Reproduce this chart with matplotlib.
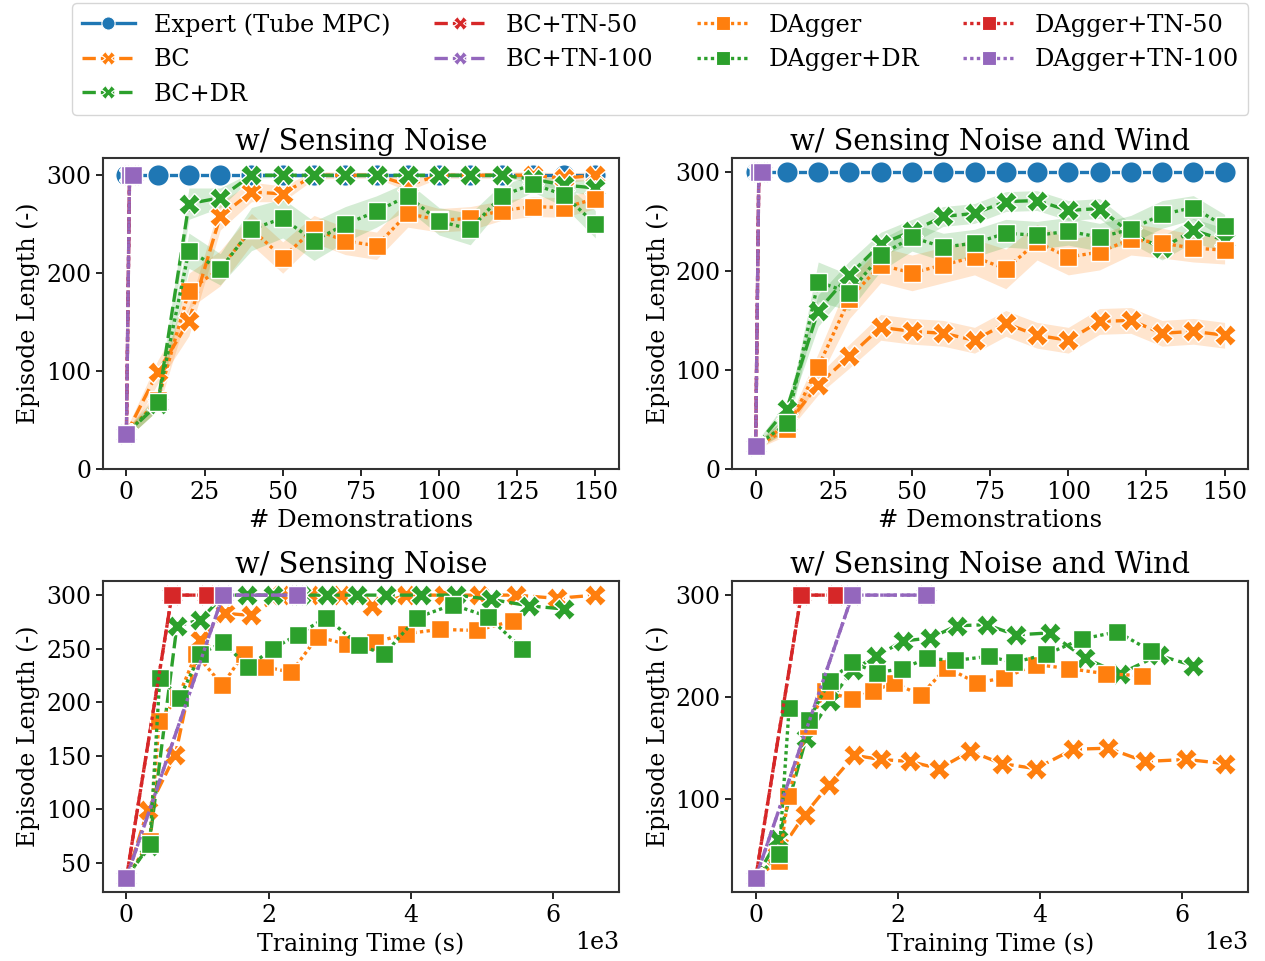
import numpy as np
import matplotlib.pyplot as plt
from matplotlib.lines import Line2D

plt.rcParams['font.family'] = ['DejaVu Serif']
plt.rcParams['font.size'] = 17

# x values
demos = [0, 10, 20, 30, 40, 50, 60, 70, 80, 90, 100, 110, 120, 130, 140, 150]
tn_demos = [0, 1, 2]

# training time (s) per method
t_bc = [0, 300, 690, 1030, 1390, 1760, 2170, 2580, 3020, 3460, 3940, 4470, 4960, 5480, 6060, 6600]
t_bc_dr = [0, 320, 710, 1040, 1370, 1700, 2070, 2460, 2830, 3250, 3660, 4140, 4640, 5130, 5670, 6160]
t_dagger = [0, 330, 460, 730, 980, 1350, 1650, 1950, 2320, 2690, 3110, 3500, 3940, 4410, 4930, 5440]
t_dagger_dr = [0, 330, 470, 750, 1040, 1360, 1710, 2060, 2410, 2810, 3280, 3630, 4090, 4590, 5090, 5570]
t_tn50 = [0, 640, 1130]
t_tn100 = [0, 1360, 2400]

# w/ Sensing Noise
expert_n = [300, 300, 300, 300, 300, 300, 300, 300, 300, 300, 300, 300, 300, 300, 300, 300]
bc_n = [36, 99, 151, 258, 283, 281, 300, 300, 300, 290, 300, 300, 300, 300, 297, 300]
bc_dr_n = [36, 66, 271, 277, 300, 300, 300, 300, 300, 300, 300, 300, 300, 296, 290, 287]
dagger_n = [36, 70, 182, 205, 245, 216, 245, 233, 228, 261, 254, 256, 264, 268, 267, 276]
dagger_dr_n = [36, 68, 223, 204, 245, 256, 233, 250, 263, 279, 253, 245, 279, 291, 280, 250]
tn_n = [36, 300, 300]
bc_n_err = [5, 12, 15, 14, 10, 8, 4, 3, 3, 6, 3, 3, 3, 4, 5, 4]
bc_dr_n_err = [5, 6, 16, 10, 3, 2, 2, 2, 2, 2, 2, 2, 2, 4, 6, 8]
dagger_n_err = [5, 10, 18, 18, 16, 16, 14, 14, 14, 14, 12, 12, 10, 10, 10, 10]
dagger_dr_n_err = [5, 8, 18, 16, 22, 20, 20, 18, 16, 14, 14, 16, 12, 8, 12, 14]

# w/ Sensing Noise and Wind
expert_w = [300, 300, 300, 300, 300, 300, 300, 300, 300, 300, 300, 300, 300, 300, 300, 300]
bc_w = [23, 45, 85, 114, 143, 139, 137, 130, 147, 135, 130, 149, 150, 137, 139, 135]
bc_dr_w = [23, 61, 160, 196, 227, 240, 255, 258, 270, 271, 261, 263, 238, 223, 241, 231]
dagger_w = [23, 40, 103, 172, 206, 198, 206, 214, 202, 229, 214, 219, 232, 228, 223, 221]
dagger_dr_w = [23, 46, 189, 178, 216, 234, 224, 228, 238, 236, 240, 234, 242, 257, 264, 245]
tn_w = [23, 300, 300]
bc_w_err = [3, 8, 10, 12, 13, 13, 13, 13, 13, 13, 13, 13, 13, 13, 13, 13]
bc_dr_w_err = [3, 8, 16, 14, 12, 12, 10, 10, 10, 10, 10, 10, 10, 12, 12, 12]
dagger_w_err = [3, 6, 14, 20, 18, 18, 18, 18, 20, 18, 18, 18, 16, 15, 14, 14]
dagger_dr_w_err = [3, 8, 20, 18, 16, 14, 14, 14, 14, 14, 14, 14, 14, 14, 12, 12]

names = ['Expert (Tube MPC)', 'BC', 'BC+DR', 'BC+TN-50', 'BC+TN-100',
         'DAgger', 'DAgger+DR', 'DAgger+TN-50', 'DAgger+TN-100']
colors = ['#1f77b4', '#ff7f0e', '#2ca02c', '#d62728', '#9467bd',
          '#ff7f0e', '#2ca02c', '#d62728', '#9467bd']
dash = (0, (4, 1.5))
dot = (0, (1, 1))
lstyles = ['-', dash, dash, dash, dash, dot, dot, dot, dot]
markers = ['o', 'X', 'X', 'X', 'X', 's', 's', 's', 's']
msizes = [15.5, 15.5, 15.5, 15.5, 15.5, 13, 13, 13, 13]


def draw(ax, xs, ys, errs):
    for i, name in enumerate(names):
        x = xs[i]
        y = ys[i]
        if x is None:
            continue
        if errs[i] is not None:
            lo = np.array(y) - np.array(errs[i])
            hi = np.array(y) + np.array(errs[i])
            ax.fill_between(x, lo, hi, color=colors[i], alpha=0.2, lw=0)
        ax.plot(x, y, color=colors[i], ls=lstyles[i], lw=2.4, marker=markers[i],
                ms=msizes[i], mec='w', mew=1.0)


fig, axes = plt.subplots(2, 2, figsize=(12.65, 9.61), dpi=100)
fig.subplots_adjust(left=0.0814, right=0.9866, top=0.8356, bottom=0.0718,
                    wspace=0.22, hspace=0.36)

ax = axes[0, 0]
draw(ax, [demos, demos, demos, tn_demos, tn_demos, demos, demos, tn_demos, tn_demos],
     [expert_n, bc_n, bc_dr_n, tn_n, tn_n, dagger_n, dagger_dr_n, tn_n, tn_n],
     [None, bc_n_err, bc_dr_n_err, None, None, dagger_n_err, dagger_dr_n_err, None, None])
ax.set_title('w/ Sensing Noise', fontsize=20.8)

ax = axes[0, 1]
draw(ax, [demos, demos, demos, tn_demos, tn_demos, demos, demos, tn_demos, tn_demos],
     [expert_w, bc_w, bc_dr_w, tn_w, tn_w, dagger_w, dagger_dr_w, tn_w, tn_w],
     [None, bc_w_err, bc_dr_w_err, None, None, dagger_w_err, dagger_dr_w_err, None, None])
ax.set_title('w/ Sensing Noise and Wind', fontsize=20.8)

for ax in axes[0]:
    ax.set_ylim(bottom=0)
    ax.set_yticks([0, 100, 200, 300])
    ax.set_xticks([0, 25, 50, 75, 100, 125, 150])
    ax.set_xlabel('# Demonstrations', fontsize=17.5)
    ax.set_ylabel('Episode Length (-)')

ax = axes[1, 0]
draw(ax, [None, t_bc, t_bc_dr, t_tn50, t_tn100, t_dagger, t_dagger_dr, t_tn50, t_tn100],
     [None, bc_n, bc_dr_n, tn_n, tn_n, dagger_n, dagger_dr_n, tn_n, tn_n],
     [None] * 9)
ax.set_title('w/ Sensing Noise', fontsize=20.8)
ax.set_yticks([50, 100, 150, 200, 250, 300])

ax = axes[1, 1]
draw(ax, [None, t_bc, t_bc_dr, t_tn50, t_tn100, t_dagger, t_dagger_dr, t_tn50, t_tn100],
     [None, bc_w, bc_dr_w, tn_w, tn_w, dagger_w, dagger_dr_w, tn_w, tn_w],
     [None] * 9)
ax.set_title('w/ Sensing Noise and Wind', fontsize=20.8)
ax.set_yticks([100, 200, 300])

for ax in axes[1]:
    ax.set_xticks([0, 2000, 4000, 6000])
    ax.ticklabel_format(axis='x', style='sci', scilimits=(3, 3))
    ax.set_xlabel('Training Time (s)')
    ax.set_ylabel('Episode Length (-)')

for ax in axes.flat:
    for s in ax.spines.values():
        s.set_color('0.2')
        s.set_linewidth(1.5)
    ax.tick_params(length=5, width=1.2, labelsize=17)

handles = [Line2D([], [], color=colors[i], ls=lstyles[i], lw=2.4, marker=markers[i],
                  ms=9.5, mec='w', mew=0.8) for i in range(len(names))]
fig.legend(handles, names, loc='upper center', bbox_to_anchor=(0.522, 1.009), ncol=4,
           fontsize=17.3, columnspacing=1.8, handlelength=2.2, labelspacing=0.48)

fig.savefig('out.png', dpi=100)
